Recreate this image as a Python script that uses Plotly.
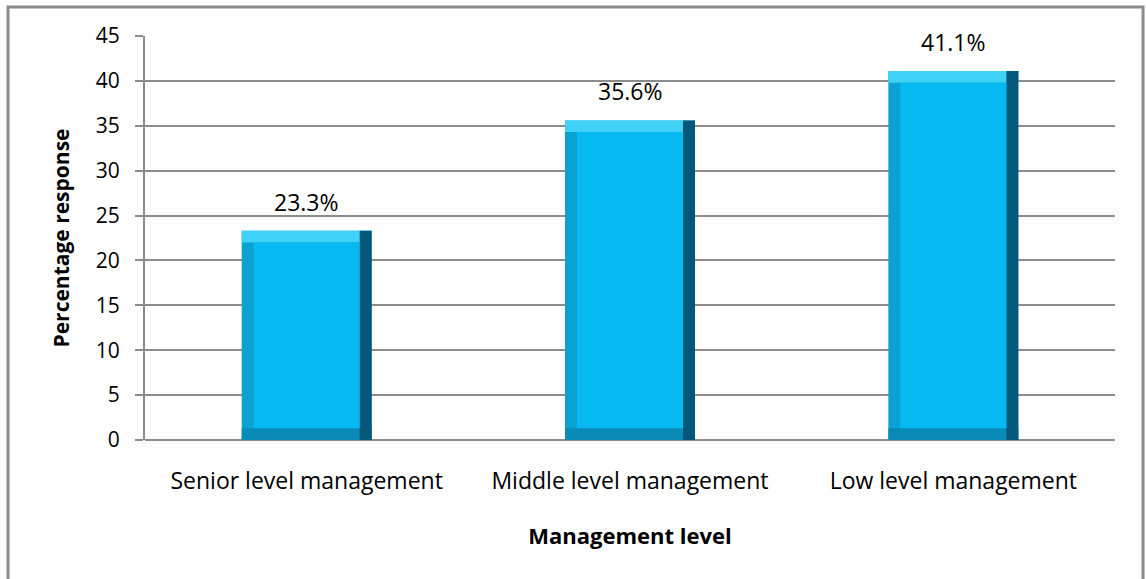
import plotly.graph_objects as go

# Survey responses by management level
categories = ["Senior level management", "Middle level management", "Low level management"]
percentages = [23.3, 35.6, 41.1]
y_ticks = [0, 5, 10, 15, 20, 25, 30, 35, 40, 45]

FONT = "Open Sans"
BAR_W = 0.402      # bar width in category units
EDGE_X = 0.037     # bevel thickness, horizontal (category units)
EDGE_Y = 1.3       # bevel thickness, vertical (value units)

fig = go.Figure()


def layer(bases, heights, offset, width, color):
    fig.add_trace(go.Bar(
        x=categories, y=heights, base=bases, offset=offset, width=width,
        marker=dict(color=color, line=dict(width=0)),
        hoverinfo="skip", showlegend=False,
    ))


zeros = [0 for _ in percentages]
# outer body of the bevelled bar (left edge tone)
layer(zeros, percentages, -BAR_W / 2, BAR_W, "#0aa2d2")
# bottom bevel
layer(zeros, [EDGE_Y for _ in percentages], -BAR_W / 2, BAR_W, "#0a8ab6")
# top bevel (highlight)
layer([v - EDGE_Y for v in percentages], [EDGE_Y for _ in percentages],
      -BAR_W / 2, BAR_W, "#3fd2f6")
# right bevel (shadow)
layer(zeros, percentages, BAR_W / 2 - EDGE_X, EDGE_X, "#06587a")
# front face
layer([EDGE_Y for _ in percentages], [v - 2 * EDGE_Y for v in percentages],
      -BAR_W / 2 + EDGE_X, BAR_W - 2 * EDGE_X, "#06b9f1")

# value labels above the bars
for c, v in zip(categories, percentages):
    fig.add_annotation(x=c, y=v, text=f"{v}%", showarrow=False,
                       yanchor="bottom", yshift=11,
                       font=dict(family=FONT, size=23, color="#000000"))

fig.update_layout(
    width=1146, height=579,
    margin=dict(l=145, r=31, t=36, b=139),
    paper_bgcolor="white", plot_bgcolor="white",
    barmode="overlay",
    font=dict(family=FONT, size=21, color="#000000"),
    xaxis=dict(
        type="category", showgrid=False, ticks="", showline=False,
        tickfont=dict(family=FONT, size=23),
        ticklabelstandoff=25,
        title=dict(text="<b>Management level</b>", standoff=33,
                   font=dict(family=FONT, size=22)),
    ),
    yaxis=dict(
        range=[0, 45], tickvals=y_ticks, ticktext=[str(t) for t in y_ticks],
        showgrid=True, gridcolor="#8c8c8c", gridwidth=2,
        showline=True, linecolor="#8c8c8c", linewidth=2,
        ticks="outside", ticklen=8, tickcolor="#8c8c8c", tickwidth=2,
        ticklabelstandoff=11,
        zeroline=True, zerolinecolor="#8c8c8c", zerolinewidth=2,
        tickfont=dict(family=FONT, size=21),
        title=dict(text="<b>Percentage response</b>", standoff=20,
                   font=dict(family=FONT, size=21)),
    ),
)

# chart border
fig.add_shape(type="rect", xref="paper", yref="paper",
              x0=-0.1412, x1=1.0289, y0=-0.4, y1=1.0718,
              line=dict(color="#8c8c8c", width=3), fillcolor="rgba(0,0,0,0)",
              layer="below")

fig.write_html("out.html")
